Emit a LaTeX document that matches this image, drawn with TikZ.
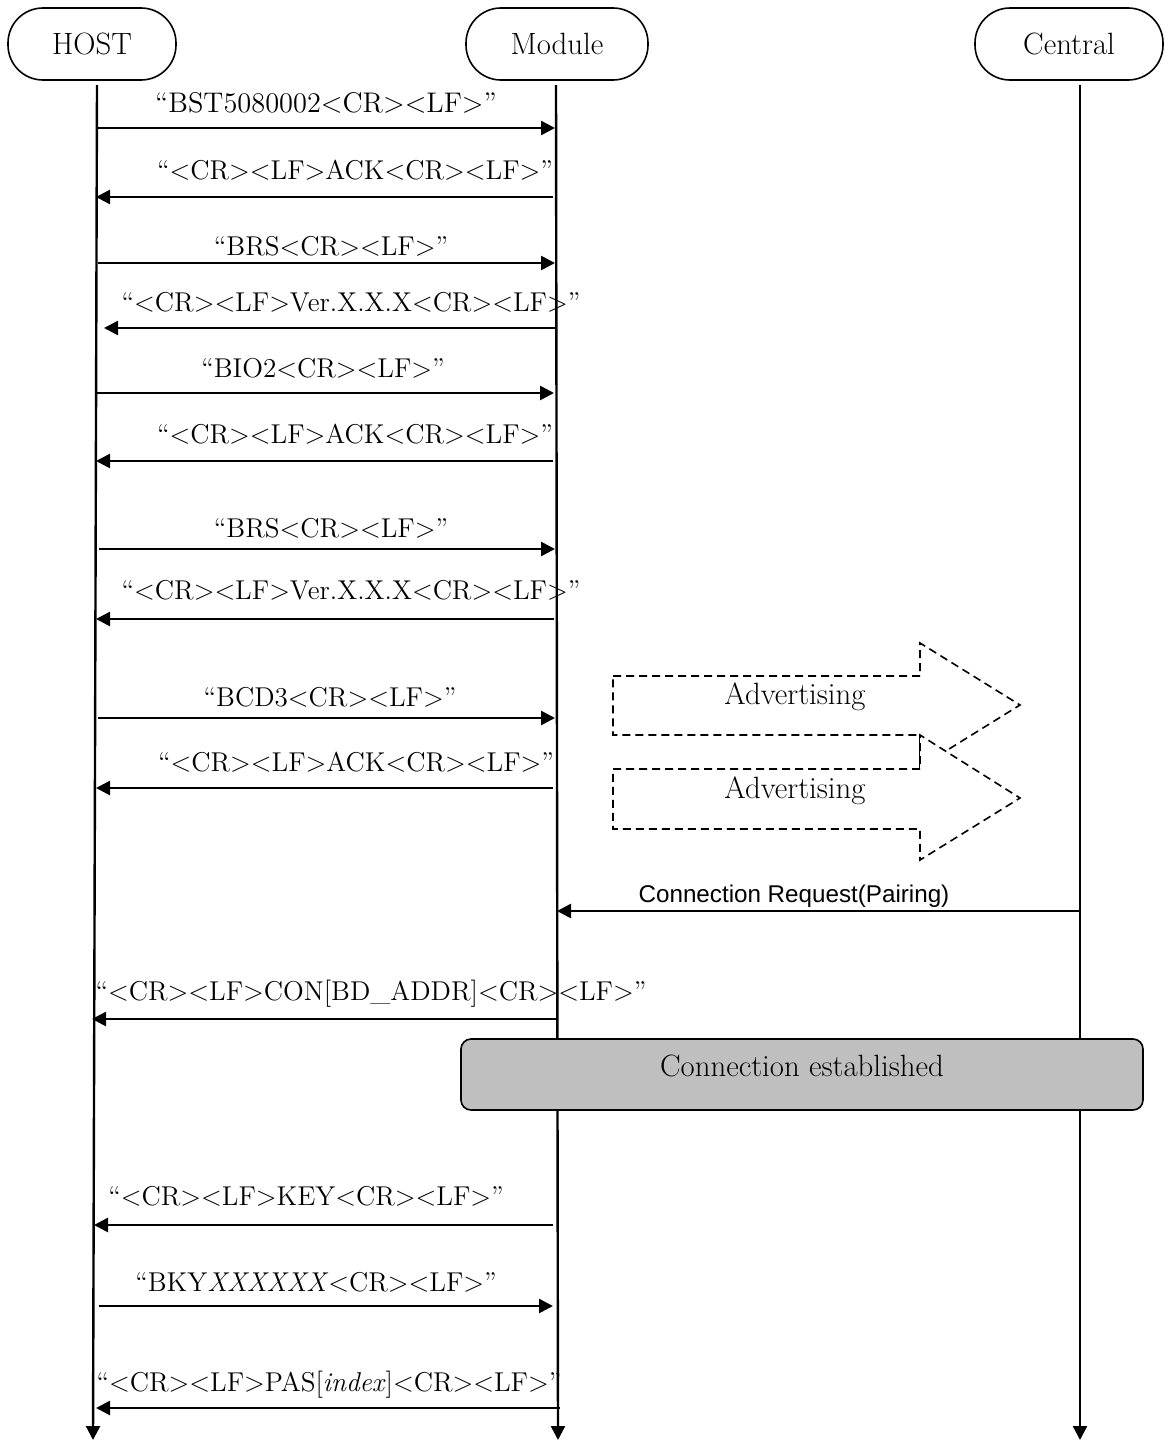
\documentclass[tikz,border=0pt]{standalone}
\usepackage{fontspec}
\newfontfamily\arialfont{Liberation Sans}
\usetikzlibrary{arrows.meta}
\usetikzlibrary{graphs}

\tikzset{
	lifehead/.style={draw, rectangle, rounded corners=17.5pt, line width=0.8pt, minimum height=36pt},
	life/.style={line width=1.2pt},
	msg/.style={line width=1.3pt},
	advbox/.style={draw, dashed, dash pattern=on 4pt off 2.5pt, line width=0.8pt, fill=white},
	txt/.style={font=\fontsize{13.6}{16}\selectfont, inner sep=0pt},
	bigtxt/.style={font=\fontsize{15.4}{18}\selectfont, inner sep=0pt}
}

\begin{document}
\begin{tikzpicture}[x=0.5pt, y=-0.5pt, >={Triangle[length=7pt,width=7pt]}]
	\useasboundingbox (0,0) rectangle (1168,1440);

	\node [name=host, lifehead, bigtxt, minimum width=84pt] at (92,44) {HOST};
	\node [name=module, lifehead, bigtxt, minimum width=91pt] at (557,44) {Module};
	\node [name=central, lifehead, bigtxt, minimum width=94pt] at (1069,44) {Central};

	\coordinate (hosttop) at (97,85);
	\coordinate (hostend) at (93,1440);
	\coordinate (modtop) at (556,85);
	\coordinate (modend) at (558,1440);
	\coordinate (centop) at (1080,85);
	\coordinate (cenend) at (1080,1440);

	\graph {(hosttop) -> [life] (hostend)};
	\graph {(modtop) -> [life] (modend)};
	\graph {(centop) -> [life] (cenend)};

	% commands and answers
	\coordinate (h1) at (98,128);	\coordinate (m1) at (555,128);
	\coordinate (h2) at (96,197);	\coordinate (m2) at (553,197);
	\coordinate (h3) at (98,263);	\coordinate (m3) at (555,263);
	\coordinate (h4) at (104,328);	\coordinate (m4) at (556,328);
	\coordinate (h5) at (97,393);	\coordinate (m5) at (554,393);
	\coordinate (h6) at (96,461);	\coordinate (m6) at (553,461);
	\coordinate (h7) at (99,549);	\coordinate (m7) at (555,549);
	\coordinate (h8) at (96,619);	\coordinate (m8) at (554,619);
	\coordinate (h9) at (98,718);	\coordinate (m9) at (555,718);
	\coordinate (h10) at (96,788);	\coordinate (m10) at (553,788);

	\node [name=txt1, txt, font=\fontsize{14.2}{16}\selectfont] at (326,103) {“BST5080002<CR><LF>”};
	\node [name=txt2, txt] at (355,170) {“<CR><LF>ACK<CR><LF>”};
	\node [name=txt3, txt] at (331,246) {“BRS<CR><LF>”};
	\node [name=txt4, txt] at (351,302) {“<CR><LF>Ver.X.X.X<CR><LF>”};
	\node [name=txt5, txt] at (323,368) {“BIO2<CR><LF>”};
	\node [name=txt6, txt] at (355,434) {“<CR><LF>ACK<CR><LF>”};
	\node [name=txt7, txt] at (331,528) {“BRS<CR><LF>”};
	\node [name=txt8, txt] at (351,590) {“<CR><LF>Ver.X.X.X<CR><LF>”};
	\node [name=txt9, txt] at (330,697) {“BCD3<CR><LF>”};
	\node [name=txt10, txt] at (356,762) {“<CR><LF>ACK<CR><LF>”};

	\graph {(h1) -> [msg] (m1)};
	\graph {(m2) -> [msg] (h2)};
	\graph {(h3) -> [msg] (m3)};
	\graph {(m4) -> [msg] (h4)};
	\graph {(h5) -> [msg] (m5)};
	\graph {(m6) -> [msg] (h6)};
	\graph {(h7) -> [msg] (m7)};
	\graph {(m8) -> [msg] (h8)};
	\graph {(h9) -> [msg] (m9)};
	\graph {(m10) -> [msg] (h10)};

	% advertising
	\draw [advbox] (613,676) -- (920,676) -- (920,643) -- (1020,705) -- (920,767) -- (920,735) -- (613,735) -- cycle;
	\draw [advbox] (613,769) -- (920,769) -- (920,735) -- (1020,798) -- (920,860) -- (920,829) -- (613,829) -- cycle;
	\node [name=adv1, bigtxt] at (795,697) {Advertising};
	\node [name=adv2, bigtxt] at (795,791) {Advertising};

	% pairing
	\coordinate (c11) at (1080,911);	\coordinate (m11) at (557,911);
	\node [name=txt11, inner sep=0pt, font=\arialfont\fontsize{12.1}{14}\selectfont] at (794,896) {Connection Request(Pairing)};
	\graph {(c11) -> [msg] (m11)};

	\coordinate (h12) at (92,1019);	\coordinate (m12) at (556,1019);
	\node [name=txt12, txt] at (371,994) {“<CR><LF>CON[BD\_ADDR]<CR><LF>”};
	\graph {(m12) -> [msg] (h12)};

	\node [name=estab, draw, line width=0.8pt, rounded corners=5pt, fill=gray!50, minimum width=341pt, minimum height=35.5pt] at (802,1074.5) {};
	\node [name=txt13, bigtxt] at (802,1066) {Connection established};

	\coordinate (h13) at (94,1225);	\coordinate (m13) at (553,1225);
	\coordinate (h14) at (99,1306);	\coordinate (m14) at (553,1306);
	\coordinate (h15) at (96,1408);	\coordinate (m15) at (560,1408);

	\node [name=txt14, txt] at (306,1196) {“<CR><LF>KEY<CR><LF>”};
	\node [name=txt15, txt] at (316,1282) {“BKY\textit{XXXXXX}<CR><LF>”};
	\node [name=txt16, txt] at (329,1385) {“<CR><LF>PAS[\textit{index}]<CR><LF>”};

	\graph {(m13) -> [msg] (h13)};
	\graph {(h14) -> [msg] (m14)};
	\graph {(m15) -> [msg] (h15)};

\end{tikzpicture}
\end{document}
